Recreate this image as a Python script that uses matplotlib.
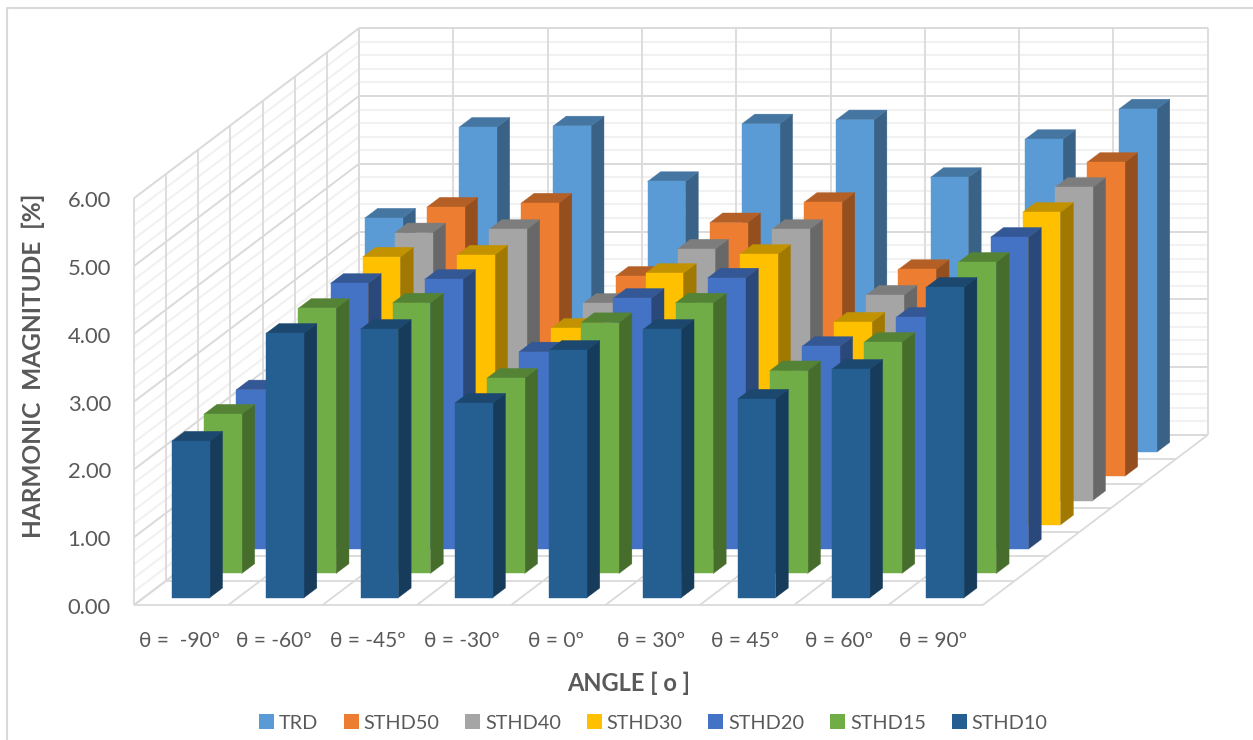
import numpy as np
import matplotlib
matplotlib.use("Agg")
import matplotlib.pyplot as plt
from matplotlib.collections import PolyCollection
from matplotlib.lines import Line2D
from matplotlib.patches import Patch

plt.rcParams["font.family"] = ["Lato", "DejaVu Sans"]

categories = ["θ =  -90º", "θ = -60º", "θ = -45º", "θ = -30º", "θ = 0º",
              "θ = 30º", "θ = 45º", "θ = 60º", "θ = 90º"]
value_ticks = [0, 1, 2, 3, 4, 5, 6]

# front row first, TRD sits at the back wall
sthd10 = [2.31, 3.90, 3.96, 2.87, 3.65, 3.96, 2.93, 3.37, 4.58]
sthd15 = [2.35, 3.91, 3.99, 2.88, 3.70, 3.99, 2.99, 3.41, 4.59]
sthd20 = [2.35, 3.92, 3.98, 2.91, 3.70, 4.00, 2.99, 3.42, 4.60]
sthd30 = [2.36, 3.95, 3.98, 2.90, 3.71, 3.99, 2.99, 3.42, 4.61]
sthd40 = [2.38, 3.95, 4.00, 2.91, 3.71, 4.00, 3.03, 3.43, 4.62]
sthd50 = [2.40, 3.97, 4.03, 2.95, 3.74, 4.04, 3.05, 3.45, 4.63]
trd = [3.45, 4.79, 4.81, 3.99, 4.84, 4.90, 4.05, 4.61, 5.06]

rows = [sthd10, sthd15, sthd20, sthd30, sthd40, sthd50, trd]
row_names = ["STHD10", "STHD15", "STHD20", "STHD30", "STHD40", "STHD50", "TRD"]
row_colors = ["#255E91", "#70AD47", "#4472C4", "#FFC000", "#A5A5A5", "#ED7D31", "#5B9BD5"]

# oblique projection, the chart has no perspective
W, H = 1253, 740
UNIT_X, UNIT_Y = 94.3, 67.8
ORIGIN_X, ORIGIN_Y = 134, 605
SHEAR_X = 225 / 7 / UNIT_X
SHEAR_Y = 170 / 7 / UNIT_Y
BAR_FRAC = 0.4


def proj(x, d, v):
    return (x + d * SHEAR_X, v + d * SHEAR_Y)


def shade(color, k):
    return tuple(c * k for c in matplotlib.colors.to_rgb(color))


def line3d(ax, p0, p1, color, lw):
    a, b = proj(*p0), proj(*p1)
    ax.add_line(Line2D([a[0], b[0]], [a[1], b[1]], color=color, lw=lw,
                       solid_capstyle="butt", zorder=1))


fig = plt.figure(figsize=(W / 100, H / 100), dpi=100)
ax = fig.add_axes([0, 0, 1, 1])
ax.set_xlim(-ORIGIN_X / UNIT_X, (W - ORIGIN_X) / UNIT_X)
ax.set_ylim((ORIGIN_Y - H) / UNIT_Y, ORIGIN_Y / UNIT_Y)
ax.axis("off")

n_cat, n_row = len(categories), len(rows)
v_max = value_ticks[-1]
major, minor = "#DADADA", "#F1F1F1"

# minor grid on both walls first
for v in np.arange(0, v_max, 0.2):
    if abs(v - round(v)) > 1e-6:
        line3d(ax, (0, 0, v), (0, n_row, v), minor, 1.5)
        line3d(ax, (0, n_row, v), (n_cat, n_row, v), minor, 1.5)
for v in value_ticks:
    line3d(ax, (0, 0, v), (0, n_row, v), major, 1.4)
    line3d(ax, (0, n_row, v), (n_cat, n_row, v), major, 1.4)
for d in range(n_row + 1):
    line3d(ax, (0, d, 0), (0, d, v_max), major, 1.3)
    line3d(ax, (0, d, 0), (n_cat, d, 0), major, 1.3)
for i in range(n_cat + 1):
    line3d(ax, (i, n_row, 0), (i, n_row, v_max), major, 1.3)
    line3d(ax, (i, 0, 0), (i, n_row, 0), major, 1.3)

# bars, back row first so the front ones cover them
for d in range(n_row - 1, -1, -1):
    polys, faces = [], []
    d0 = d + (1 - BAR_FRAC) / 2
    d1 = d0 + BAR_FRAC
    col = row_colors[d]
    for i, val in enumerate(rows[d]):
        x0 = i + (1 - BAR_FRAC) / 2
        x1 = x0 + BAR_FRAC
        polys.append([proj(x1, d0, 0), proj(x1, d1, 0), proj(x1, d1, val), proj(x1, d0, val)])
        faces.append(shade(col, 0.63))
        polys.append([proj(x0, d0, val), proj(x1, d0, val), proj(x1, d1, val), proj(x0, d1, val)])
        faces.append(shade(col, 0.76))
        polys.append([proj(x0, d0, 0), proj(x1, d0, 0), proj(x1, d0, val), proj(x0, d0, val)])
        faces.append(col)
    ax.add_collection(PolyCollection(polys, facecolors=faces, edgecolors=faces,
                                     linewidths=0.3, zorder=2 + n_row - d))

text_color = "#595959"
for v in value_ticks:
    ax.text(-23 / UNIT_X, v - 3 / UNIT_Y, f"{v:.2f}", ha="right", va="center",
            fontsize=15.8, color=text_color)
for i, name in enumerate(categories):
    ax.text(i + 0.5 - 2 / UNIT_X, -36 / UNIT_Y, name, ha="center", va="center",
            fontsize=15, color=text_color)

fig.text(33 / W, 1 - 366 / H, "HARMONIC  MAGNITUDE  [%]", rotation=90, ha="center", va="center",
         fontsize=17.6, fontweight="bold", color=text_color)
fig.text(629 / W, 1 - 683 / H, "ANGLE [ o ]", ha="center", va="center",
         fontsize=17, fontweight="bold", color=text_color)

handles = [Patch(facecolor=row_colors[d], label=row_names[d]) for d in range(n_row - 1, -1, -1)]
leg = fig.legend(handles=handles, loc="center", bbox_to_anchor=(653 / W, 1 - 723 / H), ncol=7,
                 frameon=False, fontsize=14.3, handlelength=0.75, handleheight=0.75,
                 handletextpad=0.25, columnspacing=1.3, labelcolor=text_color)

# chart frame is cropped, only top and left edges are left
fig.add_artist(Line2D([7 / W, 7 / W, 1], [0, 1 - 8 / H, 1 - 8 / H], color="#D9D9D9", lw=1.5))

fig.savefig("out.png", dpi=100)
plt.close(fig)
